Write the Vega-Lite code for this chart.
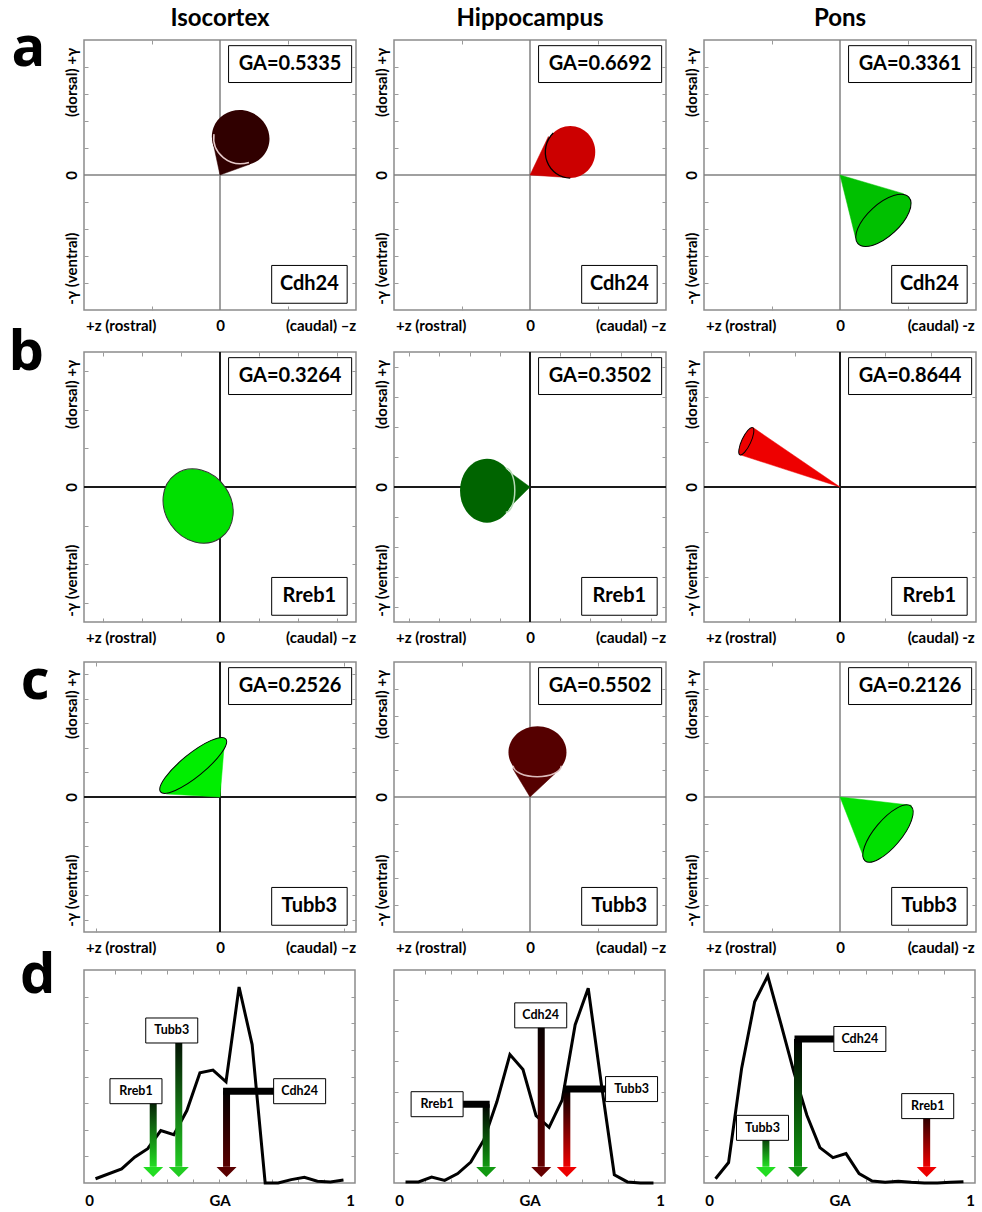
{
"$schema":"https://vega.github.io/schema/vega-lite/v6.json",
"padding":{"left":8,"top":6,"right":2,"bottom":0},
"background":"white",
"config":{
 "view":{"stroke":"#8c8c8c","strokeWidth":1.5},
 "axis":{"grid":false,"domain":false,"tickColor":"#9a9a9a","tickWidth":1,"tickSize":-4,"labelFont":"Lato","labelFontWeight":"bold","labelFontSize":15,"labelColor":"black","labelOverlap":false,"labelBound":false,"labelFlush":false},
 "title":{"font":"Lato","fontSize":24,"fontWeight":"bold","color":"black","offset":8},
 "text":{"font":"Lato","fontWeight":"bold","color":"black"}
},
"datasets":{
 "panels":[
  {"p":"a1","region":"Isocortex","gene":"Cdh24","ga":0.5335,"label":"GA=0.5335"},
  {"p":"a2","region":"Hippocampus","gene":"Cdh24","ga":0.6692,"label":"GA=0.6692"},
  {"p":"a3","region":"Pons","gene":"Cdh24","ga":0.3361,"label":"GA=0.3361"},
  {"p":"b1","region":"Isocortex","gene":"Rreb1","ga":0.3264,"label":"GA=0.3264"},
  {"p":"b2","region":"Hippocampus","gene":"Rreb1","ga":0.3502,"label":"GA=0.3502"},
  {"p":"b3","region":"Pons","gene":"Rreb1","ga":0.8644,"label":"GA=0.8644"},
  {"p":"c1","region":"Isocortex","gene":"Tubb3","ga":0.2526,"label":"GA=0.2526"},
  {"p":"c2","region":"Hippocampus","gene":"Tubb3","ga":0.5502,"label":"GA=0.5502"},
  {"p":"c3","region":"Pons","gene":"Tubb3","ga":0.2126,"label":"GA=0.2126"}
 ],
 "sides":[
  {"p":"a1","k":0,"z":0,"y":0},{"p":"a1","k":1,"z":-0.052,"y":0.244},{"p":"a1","k":2,"z":0.217,"y":0.079},
  {"p":"a2","k":0,"z":0,"y":0},{"p":"a2","k":1,"z":0.135,"y":0.285},{"p":"a2","k":2,"z":0.295,"y":-0.02},
  {"p":"a3","k":0,"z":0,"y":0},{"p":"a3","k":1,"z":0.467,"y":-0.138},{"p":"a3","k":2,"z":0.114,"y":-0.464},
  {"p":"b2","k":0,"z":0,"y":0},{"p":"b2","k":1,"z":-0.185,"y":0.136},{"p":"b2","k":2,"z":-0.16,"y":-0.16},
  {"p":"b3","k":0,"z":0,"y":0},{"p":"b3","k":1,"z":-0.639,"y":0.44},{"p":"b3","k":2,"z":-0.739,"y":0.24},
  {"p":"c1","k":0,"z":0,"y":0},{"p":"c1","k":1,"z":0.032,"y":0.395},{"p":"c1","k":2,"z":-0.393,"y":0.022},
  {"p":"c2","k":0,"z":0,"y":0},{"p":"c2","k":1,"z":-0.126,"y":0.21},{"p":"c2","k":2,"z":0.183,"y":0.173},
  {"p":"c3","k":0,"z":0,"y":0},{"p":"c3","k":1,"z":0.524,"y":-0.061},{"p":"c3","k":2,"z":0.185,"y":-0.474}
 ],
 "bases":[
  {"p":"a1","z":0.152,"y":0.276},{"p":"a2","z":0.296,"y":0.17},{"p":"a3","z":0.319,"y":-0.336},
  {"p":"b1","z":-0.161,"y":-0.141},{"p":"b2","z":-0.316,"y":-0.027},{"p":"b3","z":-0.689,"y":0.339},
  {"p":"c1","z":-0.197,"y":0.234},{"p":"c2","z":0.055,"y":0.332},{"p":"c3","z":0.353,"y":-0.271}
 ],
 "rims":[
  {"p":"a1","z":0.152,"y":0.276},{"p":"a2","z":0.296,"y":0.17},{"p":"b2","z":-0.178,"y":-0.024},{"p":"c2","z":0.053,"y":0.232}
 ],
 "dist":[
  {"r":"d1","ga":0.025,"f":0.02},{"r":"d1","ga":0.125,"f":0.066},{"r":"d1","ga":0.175,"f":0.121},{"r":"d1","ga":0.225,"f":0.161},{"r":"d1","ga":0.275,"f":0.246},{"r":"d1","ga":0.325,"f":0.227},{"r":"d1","ga":0.375,"f":0.34},{"r":"d1","ga":0.425,"f":0.517},{"r":"d1","ga":0.475,"f":0.53},{"r":"d1","ga":0.525,"f":0.475},{"r":"d1","ga":0.575,"f":0.92},{"r":"d1","ga":0.625,"f":0.65},{"r":"d1","ga":0.675,"f":0.0},{"r":"d1","ga":0.725,"f":0.0},{"r":"d1","ga":0.775,"f":0.016},{"r":"d1","ga":0.825,"f":0.027},{"r":"d1","ga":0.875,"f":0.008},{"r":"d1","ga":0.925,"f":0.005},{"r":"d1","ga":0.975,"f":0.014},
  {"r":"d2","ga":0.025,"f":0.005},{"r":"d2","ga":0.075,"f":0.005},{"r":"d2","ga":0.125,"f":0.028},{"r":"d2","ga":0.175,"f":0.012},{"r":"d2","ga":0.225,"f":0.044},{"r":"d2","ga":0.275,"f":0.098},{"r":"d2","ga":0.325,"f":0.202},{"r":"d2","ga":0.375,"f":0.381},{"r":"d2","ga":0.425,"f":0.603},{"r":"d2","ga":0.475,"f":0.533},{"r":"d2","ga":0.525,"f":0.316},{"r":"d2","ga":0.575,"f":0.261},{"r":"d2","ga":0.625,"f":0.389},{"r":"d2","ga":0.675,"f":0.743},{"r":"d2","ga":0.725,"f":0.914},{"r":"d2","ga":0.775,"f":0.467},{"r":"d2","ga":0.825,"f":0.039},{"r":"d2","ga":0.875,"f":0.005},{"r":"d2","ga":0.925,"f":0.0},{"r":"d2","ga":0.975,"f":0.0},
  {"r":"d3","ga":0.025,"f":0.02},{"r":"d3","ga":0.075,"f":0.096},{"r":"d3","ga":0.125,"f":0.538},{"r":"d3","ga":0.175,"f":0.851},{"r":"d3","ga":0.225,"f":0.972},{"r":"d3","ga":0.275,"f":0.749},{"r":"d3","ga":0.325,"f":0.522},{"r":"d3","ga":0.375,"f":0.318},{"r":"d3","ga":0.425,"f":0.166},{"r":"d3","ga":0.475,"f":0.119},{"r":"d3","ga":0.525,"f":0.138},{"r":"d3","ga":0.575,"f":0.044},{"r":"d3","ga":0.625,"f":0.009},{"r":"d3","ga":0.675,"f":0.003},{"r":"d3","ga":0.725,"f":0.008},{"r":"d3","ga":0.775,"f":0.003},{"r":"d3","ga":0.825,"f":0.0},{"r":"d3","ga":0.875,"f":0.0},{"r":"d3","ga":0.925,"f":0.003},{"r":"d3","ga":0.975,"f":0.006}
 ],
 "arrows":[
  {"r":"d1","gene":"Rreb1","ga":0.246,"lx":0.18,"ly":0.431},
  {"r":"d1","gene":"Tubb3","ga":0.344,"lx":0.317,"ly":0.716},
  {"r":"d1","gene":"Cdh24","ga":0.527,"lx":0.807,"ly":0.431},
  {"r":"d2","gene":"Rreb1","ga":0.334,"lx":0.146,"ly":0.37},
  {"r":"d2","gene":"Cdh24","ga":0.545,"lx":0.543,"ly":0.787},
  {"r":"d2","gene":"Tubb3","ga":0.643,"lx":0.891,"ly":0.441},
  {"r":"d3","gene":"Tubb3","ga":0.218,"lx":0.205,"ly":0.259},
  {"r":"d3","gene":"Cdh24","ga":0.341,"lx":0.578,"ly":0.676},
  {"r":"d3","gene":"Rreb1","ga":0.834,"lx":0.838,"ly":0.361}
 ]
},
"spacing":-9,
"resolve":{"scale":{"color":"independent"}},
"vconcat":[
 {"title":{"text":"a","orient":"left","anchor":"end","frame":"bounds","angle":0,"align":"right","baseline":"top","font":"Open Sans","fontSize":56,"fontWeight":"bold","offset":-16,"dy":15},
  "spacing":15,
  "hconcat":[
   {"width":272,"height":270,"title":"Isocortex",
    "layer":[
     {"data":{"name":"panels"},"transform":[{"filter":"datum.p === 'a1'"}],"mark":{"type":"rule","color":"#808080","strokeWidth":1.5},"encoding":{"y":{"datum":0,"type":"quantitative","scale":{"domain":[-1,1]},"axis":null}}},
     {"data":{"name":"panels"},"transform":[{"filter":"datum.p === 'a1'"}],"mark":{"type":"rule","color":"#808080","strokeWidth":1.5},"encoding":{"x":{"datum":0,"type":"quantitative","scale":{"domain":[-1,1]},"axis":null}}},
     {"data":{"name":"sides"},"transform":[{"filter":"datum.p === 'a1'"}],"mark":{"type":"line","interpolate":"linear-closed","fill":"#300000","stroke":"#300000","strokeWidth":0.5},"encoding":{"x":{"field":"z","type":"quantitative","scale":{"domain":[-1,1]},"axis":null},"y":{"field":"y","type":"quantitative","scale":{"domain":[-1,1]},"axis":null},"order":{"field":"k","type":"quantitative"}}},
     {"data":{"name":"bases"},"transform":[{"filter":"datum.p === 'a1'"}],"mark":{"type":"point","shape":"M-29,0A29,27.5 0 1,1 29,0A29,27.5 0 1,1 -29,0Z","size":4,"angle":20,"filled":true,"fill":"#300000","opacity":1},"encoding":{"x":{"field":"z","type":"quantitative","scale":{"domain":[-1,1]},"axis":{"orient":"bottom","values":[-0.73,0,0.74],"labelExpr":"datum.value < -0.1 ? '+z (rostral)' : datum.value > 0.1 ? '(caudal) –z' : '0'","ticks":false,"tickSize":0,"labelPadding":8,"title":null}},"y":{"field":"y","type":"quantitative","scale":{"domain":[-1,1]},"axis":{"orient":"left","values":[-0.69,0,0.69],"labelExpr":"datum.value > 0.1 ? '(dorsal) +γ' : datum.value < -0.1 ? '-γ (ventral)' : '0'","labelAngle":-90,"ticks":false,"tickSize":0,"labelPadding":5,"title":null}}}},
     {"data":{"name":"rims"},"transform":[{"filter":"datum.p === 'a1'"}],"mark":{"type":"point","shape":"M-26.7,-3.6A27,26 0 0,0 8.3,24.7","size":4,"filled":false,"stroke":"#e6caca","strokeWidth":1.5,"opacity":1},"encoding":{"x":{"field":"z","type":"quantitative","scale":{"domain":[-1,1]},"axis":null},"y":{"field":"y","type":"quantitative","scale":{"domain":[-1,1]},"axis":null}}},
     {"data":{"name":"panels"},"transform":[{"filter":"datum.p === 'a1'"}],"mark":{"type":"rect","fill":"white","stroke":"black","strokeWidth":1},"encoding":{"x":{"datum":0.063,"type":"quantitative","scale":{"domain":[-1,1]},"axis":{"orient":"top","values":[-0.5,0.5],"labels":false,"title":null}},"x2":{"datum":0.968},"y":{"datum":0.958,"type":"quantitative","scale":{"domain":[-1,1]},"axis":{"orient":"right","values":[-0.8,-0.6,-0.4,-0.2,0.2,0.4,0.6,0.8],"labels":false,"title":null}},"y2":{"datum":0.685}}},
     {"data":{"name":"panels"},"transform":[{"filter":"datum.p === 'a1'"}],"mark":{"type":"text","fontSize":20},"encoding":{"x":{"datum":0.515,"type":"quantitative","scale":{"domain":[-1,1]},"axis":null},"y":{"datum":0.82,"type":"quantitative","scale":{"domain":[-1,1]},"axis":null},"text":{"field":"label"}}},
     {"data":{"name":"panels"},"transform":[{"filter":"datum.p === 'a1'"}],"mark":{"type":"rect","fill":"white","stroke":"black","strokeWidth":1},"encoding":{"x":{"datum":0.38,"type":"quantitative","scale":{"domain":[-1,1]},"axis":{"orient":"bottom","values":[-0.5,0.5],"labels":false,"title":null}},"x2":{"datum":0.935},"y":{"datum":-0.67,"type":"quantitative","scale":{"domain":[-1,1]},"axis":{"orient":"left","values":[-0.8,-0.6,-0.4,-0.2,0.2,0.4,0.6,0.8],"labels":false,"title":null}},"y2":{"datum":-0.95}}},
     {"data":{"name":"panels"},"transform":[{"filter":"datum.p === 'a1'"}],"mark":{"type":"text","fontSize":20},"encoding":{"x":{"datum":0.657,"type":"quantitative","scale":{"domain":[-1,1]},"axis":null},"y":{"datum":-0.81,"type":"quantitative","scale":{"domain":[-1,1]},"axis":null},"text":{"field":"gene"}}}
    ],
    "resolve":{"axis":{"x":"independent","y":"independent"}}},
   {"width":272,"height":270,"title":"Hippocampus",
    "layer":[
     {"data":{"name":"panels"},"transform":[{"filter":"datum.p === 'a2'"}],"mark":{"type":"rule","color":"#808080","strokeWidth":1.5},"encoding":{"y":{"datum":0,"type":"quantitative","scale":{"domain":[-1,1]},"axis":null}}},
     {"data":{"name":"panels"},"transform":[{"filter":"datum.p === 'a2'"}],"mark":{"type":"rule","color":"#808080","strokeWidth":1.5},"encoding":{"x":{"datum":0,"type":"quantitative","scale":{"domain":[-1,1]},"axis":null}}},
     {"data":{"name":"sides"},"transform":[{"filter":"datum.p === 'a2'"}],"mark":{"type":"line","interpolate":"linear-closed","fill":"#cc0000","stroke":"#cc0000","strokeWidth":0.5},"encoding":{"x":{"field":"z","type":"quantitative","scale":{"domain":[-1,1]},"axis":null},"y":{"field":"y","type":"quantitative","scale":{"domain":[-1,1]},"axis":null},"order":{"field":"k","type":"quantitative"}}},
     {"data":{"name":"bases"},"transform":[{"filter":"datum.p === 'a2'"}],"mark":{"type":"point","shape":"M-25,0A25,26 0 1,1 25,0A25,26 0 1,1 -25,0Z","size":4,"filled":true,"fill":"#cc0000","opacity":1},"encoding":{"x":{"field":"z","type":"quantitative","scale":{"domain":[-1,1]},"axis":{"orient":"bottom","values":[-0.73,0,0.74],"labelExpr":"datum.value < -0.1 ? '+z (rostral)' : datum.value > 0.1 ? '(caudal) –z' : '0'","ticks":false,"tickSize":0,"labelPadding":8,"title":null}},"y":{"field":"y","type":"quantitative","scale":{"domain":[-1,1]},"axis":{"orient":"left","values":[-0.69,0,0.69],"labelExpr":"datum.value > 0.1 ? '(dorsal) +γ' : datum.value < -0.1 ? '-γ (ventral)' : '0'","labelAngle":-90,"ticks":false,"tickSize":0,"labelPadding":5,"title":null}}}},
     {"data":{"name":"rims"},"transform":[{"filter":"datum.p === 'a2'"}],"mark":{"type":"point","shape":"M-17,-19A25,26 0 0,0 0,26","size":4,"filled":false,"stroke":"#000000","strokeWidth":1.3,"opacity":1},"encoding":{"x":{"field":"z","type":"quantitative","scale":{"domain":[-1,1]},"axis":null},"y":{"field":"y","type":"quantitative","scale":{"domain":[-1,1]},"axis":null}}},
     {"data":{"name":"panels"},"transform":[{"filter":"datum.p === 'a2'"}],"mark":{"type":"rect","fill":"white","stroke":"black","strokeWidth":1},"encoding":{"x":{"datum":0.063,"type":"quantitative","scale":{"domain":[-1,1]},"axis":{"orient":"top","values":[-0.5,0.5],"labels":false,"title":null}},"x2":{"datum":0.968},"y":{"datum":0.958,"type":"quantitative","scale":{"domain":[-1,1]},"axis":{"orient":"right","values":[-0.8,-0.6,-0.4,-0.2,0.2,0.4,0.6,0.8],"labels":false,"title":null}},"y2":{"datum":0.685}}},
     {"data":{"name":"panels"},"transform":[{"filter":"datum.p === 'a2'"}],"mark":{"type":"text","fontSize":20},"encoding":{"x":{"datum":0.515,"type":"quantitative","scale":{"domain":[-1,1]},"axis":null},"y":{"datum":0.82,"type":"quantitative","scale":{"domain":[-1,1]},"axis":null},"text":{"field":"label"}}},
     {"data":{"name":"panels"},"transform":[{"filter":"datum.p === 'a2'"}],"mark":{"type":"rect","fill":"white","stroke":"black","strokeWidth":1},"encoding":{"x":{"datum":0.38,"type":"quantitative","scale":{"domain":[-1,1]},"axis":{"orient":"bottom","values":[-0.5,0.5],"labels":false,"title":null}},"x2":{"datum":0.935},"y":{"datum":-0.67,"type":"quantitative","scale":{"domain":[-1,1]},"axis":{"orient":"left","values":[-0.8,-0.6,-0.4,-0.2,0.2,0.4,0.6,0.8],"labels":false,"title":null}},"y2":{"datum":-0.95}}},
     {"data":{"name":"panels"},"transform":[{"filter":"datum.p === 'a2'"}],"mark":{"type":"text","fontSize":20},"encoding":{"x":{"datum":0.657,"type":"quantitative","scale":{"domain":[-1,1]},"axis":null},"y":{"datum":-0.81,"type":"quantitative","scale":{"domain":[-1,1]},"axis":null},"text":{"field":"gene"}}}
    ],
    "resolve":{"axis":{"x":"independent","y":"independent"}}},
   {"width":272,"height":270,"title":"Pons",
    "layer":[
     {"data":{"name":"panels"},"transform":[{"filter":"datum.p === 'a3'"}],"mark":{"type":"rule","color":"#808080","strokeWidth":1.5},"encoding":{"y":{"datum":0,"type":"quantitative","scale":{"domain":[-1,1]},"axis":null}}},
     {"data":{"name":"panels"},"transform":[{"filter":"datum.p === 'a3'"}],"mark":{"type":"rule","color":"#808080","strokeWidth":1.5},"encoding":{"x":{"datum":0,"type":"quantitative","scale":{"domain":[-1,1]},"axis":null}}},
     {"data":{"name":"sides"},"transform":[{"filter":"datum.p === 'a3'"}],"mark":{"type":"line","interpolate":"linear-closed","fill":"#00c000","stroke":"#00c000","strokeWidth":0.5},"encoding":{"x":{"field":"z","type":"quantitative","scale":{"domain":[-1,1]},"axis":null},"y":{"field":"y","type":"quantitative","scale":{"domain":[-1,1]},"axis":null},"order":{"field":"k","type":"quantitative"}}},
     {"data":{"name":"bases"},"transform":[{"filter":"datum.p === 'a3'"}],"mark":{"type":"point","shape":"M-34.5,0A34.5,16 0 1,1 34.5,0A34.5,16 0 1,1 -34.5,0Z","size":4,"angle":-42.5,"filled":true,"fill":"#00c000","stroke":"black","strokeWidth":1,"opacity":1},"encoding":{"x":{"field":"z","type":"quantitative","scale":{"domain":[-1,1]},"axis":{"orient":"bottom","values":[-0.73,0,0.74],"labelExpr":"datum.value < -0.1 ? '+z (rostral)' : datum.value > 0.1 ? '(caudal) -z' : '0'","ticks":false,"tickSize":0,"labelPadding":8,"title":null}},"y":{"field":"y","type":"quantitative","scale":{"domain":[-1,1]},"axis":{"orient":"left","values":[-0.69,0,0.69],"labelExpr":"datum.value > 0.1 ? '(dorsal) +γ' : datum.value < -0.1 ? '-γ (ventral)' : '0'","labelAngle":-90,"ticks":false,"tickSize":0,"labelPadding":5,"title":null}}}},
     {"data":{"name":"panels"},"transform":[{"filter":"datum.p === 'a3'"}],"mark":{"type":"rect","fill":"white","stroke":"black","strokeWidth":1},"encoding":{"x":{"datum":0.063,"type":"quantitative","scale":{"domain":[-1,1]},"axis":{"orient":"top","values":[-0.5,0.5],"labels":false,"title":null}},"x2":{"datum":0.968},"y":{"datum":0.958,"type":"quantitative","scale":{"domain":[-1,1]},"axis":{"orient":"right","values":[-0.8,-0.6,-0.4,-0.2,0.2,0.4,0.6,0.8],"labels":false,"title":null}},"y2":{"datum":0.685}}},
     {"data":{"name":"panels"},"transform":[{"filter":"datum.p === 'a3'"}],"mark":{"type":"text","fontSize":20},"encoding":{"x":{"datum":0.515,"type":"quantitative","scale":{"domain":[-1,1]},"axis":null},"y":{"datum":0.82,"type":"quantitative","scale":{"domain":[-1,1]},"axis":null},"text":{"field":"label"}}},
     {"data":{"name":"panels"},"transform":[{"filter":"datum.p === 'a3'"}],"mark":{"type":"rect","fill":"white","stroke":"black","strokeWidth":1},"encoding":{"x":{"datum":0.38,"type":"quantitative","scale":{"domain":[-1,1]},"axis":{"orient":"bottom","values":[-0.5,0.5],"labels":false,"title":null}},"x2":{"datum":0.935},"y":{"datum":-0.67,"type":"quantitative","scale":{"domain":[-1,1]},"axis":{"orient":"left","values":[-0.8,-0.6,-0.4,-0.2,0.2,0.4,0.6,0.8],"labels":false,"title":null}},"y2":{"datum":-0.95}}},
     {"data":{"name":"panels"},"transform":[{"filter":"datum.p === 'a3'"}],"mark":{"type":"text","fontSize":20},"encoding":{"x":{"datum":0.657,"type":"quantitative","scale":{"domain":[-1,1]},"axis":null},"y":{"datum":-0.81,"type":"quantitative","scale":{"domain":[-1,1]},"axis":null},"text":{"field":"gene"}}}
    ],
    "resolve":{"axis":{"x":"independent","y":"independent"}}}
  ]},
 {"title":{"text":"b","orient":"left","anchor":"end","frame":"bounds","angle":0,"align":"right","baseline":"top","font":"Open Sans","fontSize":56,"fontWeight":"bold","offset":-16,"dy":-24},
  "spacing":15,
  "hconcat":[
   {"width":272,"height":270,
    "layer":[
     {"data":{"name":"panels"},"transform":[{"filter":"datum.p === 'b1'"}],"mark":{"type":"rule","color":"#1a1a1a","strokeWidth":2},"encoding":{"y":{"datum":0,"type":"quantitative","scale":{"domain":[-1,1]},"axis":null}}},
     {"data":{"name":"panels"},"transform":[{"filter":"datum.p === 'b1'"}],"mark":{"type":"rule","color":"#1a1a1a","strokeWidth":2},"encoding":{"x":{"datum":0,"type":"quantitative","scale":{"domain":[-1,1]},"axis":null}}},
     {"data":{"name":"bases"},"transform":[{"filter":"datum.p === 'b1'"}],"mark":{"type":"point","shape":"M-39,0A39,33 0 1,1 39,0A39,33 0 1,1 -39,0Z","size":4,"angle":55,"filled":true,"fill":"#00e000","stroke":"#333333","strokeWidth":1,"opacity":1},"encoding":{"x":{"field":"z","type":"quantitative","scale":{"domain":[-1,1]},"axis":{"orient":"bottom","values":[-0.73,0,0.74],"labelExpr":"datum.value < -0.1 ? '+z (rostral)' : datum.value > 0.1 ? '(caudal) –z' : '0'","ticks":false,"tickSize":0,"labelPadding":8,"title":null}},"y":{"field":"y","type":"quantitative","scale":{"domain":[-1,1]},"axis":{"orient":"left","values":[-0.69,0,0.69],"labelExpr":"datum.value > 0.1 ? '(dorsal) +γ' : datum.value < -0.1 ? '-γ (ventral)' : '0'","labelAngle":-90,"ticks":false,"tickSize":0,"labelPadding":5,"title":null}}}},
     {"data":{"name":"panels"},"transform":[{"filter":"datum.p === 'b1'"}],"mark":{"type":"rect","fill":"white","stroke":"black","strokeWidth":1},"encoding":{"x":{"datum":0.063,"type":"quantitative","scale":{"domain":[-1,1]},"axis":{"orient":"top","values":[-0.857,-0.571,-0.286,0.286,0.571,0.857],"labels":false,"title":null}},"x2":{"datum":0.968},"y":{"datum":0.958,"type":"quantitative","scale":{"domain":[-1,1]},"axis":{"orient":"right","values":[-0.857,-0.571,-0.286,0.286,0.571,0.857],"labels":false,"title":null}},"y2":{"datum":0.685}}},
     {"data":{"name":"panels"},"transform":[{"filter":"datum.p === 'b1'"}],"mark":{"type":"text","fontSize":20},"encoding":{"x":{"datum":0.515,"type":"quantitative","scale":{"domain":[-1,1]},"axis":null},"y":{"datum":0.82,"type":"quantitative","scale":{"domain":[-1,1]},"axis":null},"text":{"field":"label"}}},
     {"data":{"name":"panels"},"transform":[{"filter":"datum.p === 'b1'"}],"mark":{"type":"rect","fill":"white","stroke":"black","strokeWidth":1},"encoding":{"x":{"datum":0.38,"type":"quantitative","scale":{"domain":[-1,1]},"axis":{"orient":"bottom","values":[-0.857,-0.571,-0.286,0.286,0.571,0.857],"labels":false,"title":null}},"x2":{"datum":0.935},"y":{"datum":-0.67,"type":"quantitative","scale":{"domain":[-1,1]},"axis":{"orient":"left","values":[-0.857,-0.571,-0.286,0.286,0.571,0.857],"labels":false,"title":null}},"y2":{"datum":-0.95}}},
     {"data":{"name":"panels"},"transform":[{"filter":"datum.p === 'b1'"}],"mark":{"type":"text","fontSize":20},"encoding":{"x":{"datum":0.657,"type":"quantitative","scale":{"domain":[-1,1]},"axis":null},"y":{"datum":-0.81,"type":"quantitative","scale":{"domain":[-1,1]},"axis":null},"text":{"field":"gene"}}}
    ],
    "resolve":{"axis":{"x":"independent","y":"independent"}}},
   {"width":272,"height":270,
    "layer":[
     {"data":{"name":"panels"},"transform":[{"filter":"datum.p === 'b2'"}],"mark":{"type":"rule","color":"#1a1a1a","strokeWidth":2},"encoding":{"y":{"datum":0,"type":"quantitative","scale":{"domain":[-1,1]},"axis":null}}},
     {"data":{"name":"panels"},"transform":[{"filter":"datum.p === 'b2'"}],"mark":{"type":"rule","color":"#1a1a1a","strokeWidth":2},"encoding":{"x":{"datum":0,"type":"quantitative","scale":{"domain":[-1,1]},"axis":null}}},
     {"data":{"name":"sides"},"transform":[{"filter":"datum.p === 'b2'"}],"mark":{"type":"line","interpolate":"linear-closed","fill":"#006400","stroke":"#006400","strokeWidth":0.5},"encoding":{"x":{"field":"z","type":"quantitative","scale":{"domain":[-1,1]},"axis":null},"y":{"field":"y","type":"quantitative","scale":{"domain":[-1,1]},"axis":null},"order":{"field":"k","type":"quantitative"}}},
     {"data":{"name":"bases"},"transform":[{"filter":"datum.p === 'b2'"}],"mark":{"type":"point","shape":"M-27,0A27,32 0 1,1 27,0A27,32 0 1,1 -27,0Z","size":4,"filled":true,"fill":"#006400","opacity":1},"encoding":{"x":{"field":"z","type":"quantitative","scale":{"domain":[-1,1]},"axis":{"orient":"bottom","values":[-0.73,0,0.74],"labelExpr":"datum.value < -0.1 ? '+z (rostral)' : datum.value > 0.1 ? '(caudal) –z' : '0'","ticks":false,"tickSize":0,"labelPadding":8,"title":null}},"y":{"field":"y","type":"quantitative","scale":{"domain":[-1,1]},"axis":{"orient":"left","values":[-0.69,0,0.69],"labelExpr":"datum.value > 0.1 ? '(dorsal) +γ' : datum.value < -0.1 ? '-γ (ventral)' : '0'","labelAngle":-90,"ticks":false,"tickSize":0,"labelPadding":5,"title":null}}}},
     {"data":{"name":"rims"},"transform":[{"filter":"datum.p === 'b2'"}],"mark":{"type":"point","shape":"M0,-22A9,22 0 0,1 0,22","size":4,"filled":false,"stroke":"#b5d9b5","strokeWidth":1.5,"opacity":1},"encoding":{"x":{"field":"z","type":"quantitative","scale":{"domain":[-1,1]},"axis":null},"y":{"field":"y","type":"quantitative","scale":{"domain":[-1,1]},"axis":null}}},
     {"data":{"name":"panels"},"transform":[{"filter":"datum.p === 'b2'"}],"mark":{"type":"rect","fill":"white","stroke":"black","strokeWidth":1},"encoding":{"x":{"datum":0.063,"type":"quantitative","scale":{"domain":[-1,1]},"axis":{"orient":"top","values":[-0.889,-0.667,-0.444,-0.222,0.222,0.444,0.667,0.889],"labels":false,"title":null}},"x2":{"datum":0.968},"y":{"datum":0.958,"type":"quantitative","scale":{"domain":[-1,1]},"axis":{"orient":"right","values":[-0.889,-0.667,-0.444,-0.222,0.222,0.444,0.667,0.889],"labels":false,"title":null}},"y2":{"datum":0.685}}},
     {"data":{"name":"panels"},"transform":[{"filter":"datum.p === 'b2'"}],"mark":{"type":"text","fontSize":20},"encoding":{"x":{"datum":0.515,"type":"quantitative","scale":{"domain":[-1,1]},"axis":null},"y":{"datum":0.82,"type":"quantitative","scale":{"domain":[-1,1]},"axis":null},"text":{"field":"label"}}},
     {"data":{"name":"panels"},"transform":[{"filter":"datum.p === 'b2'"}],"mark":{"type":"rect","fill":"white","stroke":"black","strokeWidth":1},"encoding":{"x":{"datum":0.38,"type":"quantitative","scale":{"domain":[-1,1]},"axis":{"orient":"bottom","values":[-0.889,-0.667,-0.444,-0.222,0.222,0.444,0.667,0.889],"labels":false,"title":null}},"x2":{"datum":0.935},"y":{"datum":-0.67,"type":"quantitative","scale":{"domain":[-1,1]},"axis":{"orient":"left","values":[-0.889,-0.667,-0.444,-0.222,0.222,0.444,0.667,0.889],"labels":false,"title":null}},"y2":{"datum":-0.95}}},
     {"data":{"name":"panels"},"transform":[{"filter":"datum.p === 'b2'"}],"mark":{"type":"text","fontSize":20},"encoding":{"x":{"datum":0.657,"type":"quantitative","scale":{"domain":[-1,1]},"axis":null},"y":{"datum":-0.81,"type":"quantitative","scale":{"domain":[-1,1]},"axis":null},"text":{"field":"gene"}}}
    ],
    "resolve":{"axis":{"x":"independent","y":"independent"}}},
   {"width":272,"height":270,
    "layer":[
     {"data":{"name":"panels"},"transform":[{"filter":"datum.p === 'b3'"}],"mark":{"type":"rule","color":"#1a1a1a","strokeWidth":2},"encoding":{"y":{"datum":0,"type":"quantitative","scale":{"domain":[-1,1]},"axis":null}}},
     {"data":{"name":"panels"},"transform":[{"filter":"datum.p === 'b3'"}],"mark":{"type":"rule","color":"#1a1a1a","strokeWidth":2},"encoding":{"x":{"datum":0,"type":"quantitative","scale":{"domain":[-1,1]},"axis":null}}},
     {"data":{"name":"sides"},"transform":[{"filter":"datum.p === 'b3'"}],"mark":{"type":"line","interpolate":"linear-closed","fill":"#ee0000","stroke":"#ee0000","strokeWidth":0.5},"encoding":{"x":{"field":"z","type":"quantitative","scale":{"domain":[-1,1]},"axis":null},"y":{"field":"y","type":"quantitative","scale":{"domain":[-1,1]},"axis":null},"order":{"field":"k","type":"quantitative"}}},
     {"data":{"name":"bases"},"transform":[{"filter":"datum.p === 'b3'"}],"mark":{"type":"point","shape":"M-15,0A15,4.5 0 1,1 15,0A15,4.5 0 1,1 -15,0Z","size":4,"angle":-65,"filled":true,"fill":"#ee0000","stroke":"black","strokeWidth":1,"opacity":1},"encoding":{"x":{"field":"z","type":"quantitative","scale":{"domain":[-1,1]},"axis":{"orient":"bottom","values":[-0.73,0,0.74],"labelExpr":"datum.value < -0.1 ? '+z (rostral)' : datum.value > 0.1 ? '(caudal) -z' : '0'","ticks":false,"tickSize":0,"labelPadding":8,"title":null}},"y":{"field":"y","type":"quantitative","scale":{"domain":[-1,1]},"axis":{"orient":"left","values":[-0.69,0,0.69],"labelExpr":"datum.value > 0.1 ? '(dorsal) +γ' : datum.value < -0.1 ? '-γ (ventral)' : '0'","labelAngle":-90,"ticks":false,"tickSize":0,"labelPadding":5,"title":null}}}},
     {"data":{"name":"panels"},"transform":[{"filter":"datum.p === 'b3'"}],"mark":{"type":"rect","fill":"white","stroke":"black","strokeWidth":1},"encoding":{"x":{"datum":0.063,"type":"quantitative","scale":{"domain":[-1,1]},"axis":{"orient":"top","values":[-0.667,-0.333,0.333,0.667],"labels":false,"title":null}},"x2":{"datum":0.968},"y":{"datum":0.958,"type":"quantitative","scale":{"domain":[-1,1]},"axis":{"orient":"right","values":[-0.667,-0.333,0.333,0.667],"labels":false,"title":null}},"y2":{"datum":0.685}}},
     {"data":{"name":"panels"},"transform":[{"filter":"datum.p === 'b3'"}],"mark":{"type":"text","fontSize":20},"encoding":{"x":{"datum":0.515,"type":"quantitative","scale":{"domain":[-1,1]},"axis":null},"y":{"datum":0.82,"type":"quantitative","scale":{"domain":[-1,1]},"axis":null},"text":{"field":"label"}}},
     {"data":{"name":"panels"},"transform":[{"filter":"datum.p === 'b3'"}],"mark":{"type":"rect","fill":"white","stroke":"black","strokeWidth":1},"encoding":{"x":{"datum":0.38,"type":"quantitative","scale":{"domain":[-1,1]},"axis":{"orient":"bottom","values":[-0.667,-0.333,0.333,0.667],"labels":false,"title":null}},"x2":{"datum":0.935},"y":{"datum":-0.67,"type":"quantitative","scale":{"domain":[-1,1]},"axis":{"orient":"left","values":[-0.667,-0.333,0.333,0.667],"labels":false,"title":null}},"y2":{"datum":-0.95}}},
     {"data":{"name":"panels"},"transform":[{"filter":"datum.p === 'b3'"}],"mark":{"type":"text","fontSize":20},"encoding":{"x":{"datum":0.657,"type":"quantitative","scale":{"domain":[-1,1]},"axis":null},"y":{"datum":-0.81,"type":"quantitative","scale":{"domain":[-1,1]},"axis":null},"text":{"field":"gene"}}}
    ],
    "resolve":{"axis":{"x":"independent","y":"independent"}}}
  ]},
 {"title":{"text":[" ","c"],"lineHeight":17,"orient":"left","anchor":"end","frame":"bounds","angle":0,"align":"right","baseline":"top","font":"Open Sans","fontSize":56,"fontWeight":"bold","offset":-15,"dy":-22},
  "spacing":15,
  "hconcat":[
   {"width":272,"height":270,
    "layer":[
     {"data":{"name":"panels"},"transform":[{"filter":"datum.p === 'c1'"}],"mark":{"type":"rule","color":"#1a1a1a","strokeWidth":2},"encoding":{"y":{"datum":0,"type":"quantitative","scale":{"domain":[-1,1]},"axis":null}}},
     {"data":{"name":"panels"},"transform":[{"filter":"datum.p === 'c1'"}],"mark":{"type":"rule","color":"#1a1a1a","strokeWidth":2},"encoding":{"x":{"datum":0,"type":"quantitative","scale":{"domain":[-1,1]},"axis":null}}},
     {"data":{"name":"sides"},"transform":[{"filter":"datum.p === 'c1'"}],"mark":{"type":"line","interpolate":"linear-closed","fill":"#00ee00","stroke":"#00ee00","strokeWidth":0.5},"encoding":{"x":{"field":"z","type":"quantitative","scale":{"domain":[-1,1]},"axis":null},"y":{"field":"y","type":"quantitative","scale":{"domain":[-1,1]},"axis":null},"order":{"field":"k","type":"quantitative"}}},
     {"data":{"name":"bases"},"transform":[{"filter":"datum.p === 'c1'"}],"mark":{"type":"point","shape":"M-42,0A42,11.5 0 1,1 42,0A42,11.5 0 1,1 -42,0Z","size":4,"angle":-39,"filled":true,"fill":"#00ee00","stroke":"black","strokeWidth":1,"opacity":1},"encoding":{"x":{"field":"z","type":"quantitative","scale":{"domain":[-1,1]},"axis":{"orient":"bottom","values":[-0.73,0,0.74],"labelExpr":"datum.value < -0.1 ? '+z (rostral)' : datum.value > 0.1 ? '(caudal) –z' : '0'","ticks":false,"tickSize":0,"labelPadding":8,"title":null}},"y":{"field":"y","type":"quantitative","scale":{"domain":[-1,1]},"axis":{"orient":"left","values":[-0.69,0,0.69],"labelExpr":"datum.value > 0.1 ? '(dorsal) +γ' : datum.value < -0.1 ? '-γ (ventral)' : '0'","labelAngle":-90,"ticks":false,"tickSize":0,"labelPadding":5,"title":null}}}},
     {"data":{"name":"panels"},"transform":[{"filter":"datum.p === 'c1'"}],"mark":{"type":"rect","fill":"white","stroke":"black","strokeWidth":1},"encoding":{"x":{"datum":0.063,"type":"quantitative","scale":{"domain":[-1,1]},"axis":{"orient":"top","values":[-0.909,0.909],"labels":false,"title":null}},"x2":{"datum":0.968},"y":{"datum":0.958,"type":"quantitative","scale":{"domain":[-1,1]},"axis":{"orient":"right","values":[-0.909,-0.727,-0.545,-0.364,-0.182,0.182,0.364,0.545,0.727,0.909],"labels":false,"title":null}},"y2":{"datum":0.685}}},
     {"data":{"name":"panels"},"transform":[{"filter":"datum.p === 'c1'"}],"mark":{"type":"text","fontSize":20},"encoding":{"x":{"datum":0.515,"type":"quantitative","scale":{"domain":[-1,1]},"axis":null},"y":{"datum":0.82,"type":"quantitative","scale":{"domain":[-1,1]},"axis":null},"text":{"field":"label"}}},
     {"data":{"name":"panels"},"transform":[{"filter":"datum.p === 'c1'"}],"mark":{"type":"rect","fill":"white","stroke":"black","strokeWidth":1},"encoding":{"x":{"datum":0.38,"type":"quantitative","scale":{"domain":[-1,1]},"axis":{"orient":"bottom","values":[-0.909,0.909],"labels":false,"title":null}},"x2":{"datum":0.935},"y":{"datum":-0.67,"type":"quantitative","scale":{"domain":[-1,1]},"axis":{"orient":"left","values":[-0.909,-0.727,-0.545,-0.364,-0.182,0.182,0.364,0.545,0.727,0.909],"labels":false,"title":null}},"y2":{"datum":-0.95}}},
     {"data":{"name":"panels"},"transform":[{"filter":"datum.p === 'c1'"}],"mark":{"type":"text","fontSize":20},"encoding":{"x":{"datum":0.657,"type":"quantitative","scale":{"domain":[-1,1]},"axis":null},"y":{"datum":-0.81,"type":"quantitative","scale":{"domain":[-1,1]},"axis":null},"text":{"field":"gene"}}}
    ],
    "resolve":{"axis":{"x":"independent","y":"independent"}}},
   {"width":272,"height":270,
    "layer":[
     {"data":{"name":"panels"},"transform":[{"filter":"datum.p === 'c2'"}],"mark":{"type":"rule","color":"#808080","strokeWidth":1.5},"encoding":{"y":{"datum":0,"type":"quantitative","scale":{"domain":[-1,1]},"axis":null}}},
     {"data":{"name":"panels"},"transform":[{"filter":"datum.p === 'c2'"}],"mark":{"type":"rule","color":"#808080","strokeWidth":1.5},"encoding":{"x":{"datum":0,"type":"quantitative","scale":{"domain":[-1,1]},"axis":null}}},
     {"data":{"name":"sides"},"transform":[{"filter":"datum.p === 'c2'"}],"mark":{"type":"line","interpolate":"linear-closed","fill":"#550000","stroke":"#550000","strokeWidth":0.5},"encoding":{"x":{"field":"z","type":"quantitative","scale":{"domain":[-1,1]},"axis":null},"y":{"field":"y","type":"quantitative","scale":{"domain":[-1,1]},"axis":null},"order":{"field":"k","type":"quantitative"}}},
     {"data":{"name":"bases"},"transform":[{"filter":"datum.p === 'c2'"}],"mark":{"type":"point","shape":"M-29,0A29,26 0 1,1 29,0A29,26 0 1,1 -29,0Z","size":4,"filled":true,"fill":"#550000","opacity":1},"encoding":{"x":{"field":"z","type":"quantitative","scale":{"domain":[-1,1]},"axis":{"orient":"bottom","values":[-0.73,0,0.74],"labelExpr":"datum.value < -0.1 ? '+z (rostral)' : datum.value > 0.1 ? '(caudal) –z' : '0'","ticks":false,"tickSize":0,"labelPadding":8,"title":null}},"y":{"field":"y","type":"quantitative","scale":{"domain":[-1,1]},"axis":{"orient":"left","values":[-0.69,0,0.69],"labelExpr":"datum.value > 0.1 ? '(dorsal) +γ' : datum.value < -0.1 ? '-γ (ventral)' : '0'","labelAngle":-90,"ticks":false,"tickSize":0,"labelPadding":5,"title":null}}}},
     {"data":{"name":"rims"},"transform":[{"filter":"datum.p === 'c2'"}],"mark":{"type":"point","shape":"M-24,0A24,11 0 0,0 24,0","size":4,"filled":false,"stroke":"#dcbcbc","strokeWidth":1.5,"opacity":1},"encoding":{"x":{"field":"z","type":"quantitative","scale":{"domain":[-1,1]},"axis":null},"y":{"field":"y","type":"quantitative","scale":{"domain":[-1,1]},"axis":null}}},
     {"data":{"name":"panels"},"transform":[{"filter":"datum.p === 'c2'"}],"mark":{"type":"rect","fill":"white","stroke":"black","strokeWidth":1},"encoding":{"x":{"datum":0.063,"type":"quantitative","scale":{"domain":[-1,1]},"axis":{"orient":"top","values":[-0.5,0.5],"labels":false,"title":null}},"x2":{"datum":0.968},"y":{"datum":0.958,"type":"quantitative","scale":{"domain":[-1,1]},"axis":{"orient":"right","values":[-0.8,-0.6,-0.4,-0.2,0.2,0.4,0.6,0.8],"labels":false,"title":null}},"y2":{"datum":0.685}}},
     {"data":{"name":"panels"},"transform":[{"filter":"datum.p === 'c2'"}],"mark":{"type":"text","fontSize":20},"encoding":{"x":{"datum":0.515,"type":"quantitative","scale":{"domain":[-1,1]},"axis":null},"y":{"datum":0.82,"type":"quantitative","scale":{"domain":[-1,1]},"axis":null},"text":{"field":"label"}}},
     {"data":{"name":"panels"},"transform":[{"filter":"datum.p === 'c2'"}],"mark":{"type":"rect","fill":"white","stroke":"black","strokeWidth":1},"encoding":{"x":{"datum":0.38,"type":"quantitative","scale":{"domain":[-1,1]},"axis":{"orient":"bottom","values":[-0.5,0.5],"labels":false,"title":null}},"x2":{"datum":0.935},"y":{"datum":-0.67,"type":"quantitative","scale":{"domain":[-1,1]},"axis":{"orient":"left","values":[-0.8,-0.6,-0.4,-0.2,0.2,0.4,0.6,0.8],"labels":false,"title":null}},"y2":{"datum":-0.95}}},
     {"data":{"name":"panels"},"transform":[{"filter":"datum.p === 'c2'"}],"mark":{"type":"text","fontSize":20},"encoding":{"x":{"datum":0.657,"type":"quantitative","scale":{"domain":[-1,1]},"axis":null},"y":{"datum":-0.81,"type":"quantitative","scale":{"domain":[-1,1]},"axis":null},"text":{"field":"gene"}}}
    ],
    "resolve":{"axis":{"x":"independent","y":"independent"}}},
   {"width":272,"height":270,
    "layer":[
     {"data":{"name":"panels"},"transform":[{"filter":"datum.p === 'c3'"}],"mark":{"type":"rule","color":"#808080","strokeWidth":1.5},"encoding":{"y":{"datum":0,"type":"quantitative","scale":{"domain":[-1,1]},"axis":null}}},
     {"data":{"name":"panels"},"transform":[{"filter":"datum.p === 'c3'"}],"mark":{"type":"rule","color":"#808080","strokeWidth":1.5},"encoding":{"x":{"datum":0,"type":"quantitative","scale":{"domain":[-1,1]},"axis":null}}},
     {"data":{"name":"sides"},"transform":[{"filter":"datum.p === 'c3'"}],"mark":{"type":"line","interpolate":"linear-closed","fill":"#00e000","stroke":"#00e000","strokeWidth":0.5},"encoding":{"x":{"field":"z","type":"quantitative","scale":{"domain":[-1,1]},"axis":null},"y":{"field":"y","type":"quantitative","scale":{"domain":[-1,1]},"axis":null},"order":{"field":"k","type":"quantitative"}}},
     {"data":{"name":"bases"},"transform":[{"filter":"datum.p === 'c3'"}],"mark":{"type":"point","shape":"M-35.7,0A35.7,13.5 0 1,1 35.7,0A35.7,13.5 0 1,1 -35.7,0Z","size":4,"angle":-50,"filled":true,"fill":"#00e000","stroke":"black","strokeWidth":1,"opacity":1},"encoding":{"x":{"field":"z","type":"quantitative","scale":{"domain":[-1,1]},"axis":{"orient":"bottom","values":[-0.73,0,0.74],"labelExpr":"datum.value < -0.1 ? '+z (rostral)' : datum.value > 0.1 ? '(caudal) -z' : '0'","ticks":false,"tickSize":0,"labelPadding":8,"title":null}},"y":{"field":"y","type":"quantitative","scale":{"domain":[-1,1]},"axis":{"orient":"left","values":[-0.69,0,0.69],"labelExpr":"datum.value > 0.1 ? '(dorsal) +γ' : datum.value < -0.1 ? '-γ (ventral)' : '0'","labelAngle":-90,"ticks":false,"tickSize":0,"labelPadding":5,"title":null}}}},
     {"data":{"name":"panels"},"transform":[{"filter":"datum.p === 'c3'"}],"mark":{"type":"rect","fill":"white","stroke":"black","strokeWidth":1},"encoding":{"x":{"datum":0.063,"type":"quantitative","scale":{"domain":[-1,1]},"axis":{"orient":"top","values":[-0.5,0.5],"labels":false,"title":null}},"x2":{"datum":0.968},"y":{"datum":0.958,"type":"quantitative","scale":{"domain":[-1,1]},"axis":{"orient":"right","values":[-0.8,-0.6,-0.4,-0.2,0.2,0.4,0.6,0.8],"labels":false,"title":null}},"y2":{"datum":0.685}}},
     {"data":{"name":"panels"},"transform":[{"filter":"datum.p === 'c3'"}],"mark":{"type":"text","fontSize":20},"encoding":{"x":{"datum":0.515,"type":"quantitative","scale":{"domain":[-1,1]},"axis":null},"y":{"datum":0.82,"type":"quantitative","scale":{"domain":[-1,1]},"axis":null},"text":{"field":"label"}}},
     {"data":{"name":"panels"},"transform":[{"filter":"datum.p === 'c3'"}],"mark":{"type":"rect","fill":"white","stroke":"black","strokeWidth":1},"encoding":{"x":{"datum":0.38,"type":"quantitative","scale":{"domain":[-1,1]},"axis":{"orient":"bottom","values":[-0.5,0.5],"labels":false,"title":null}},"x2":{"datum":0.935},"y":{"datum":-0.67,"type":"quantitative","scale":{"domain":[-1,1]},"axis":{"orient":"left","values":[-0.8,-0.6,-0.4,-0.2,0.2,0.4,0.6,0.8],"labels":false,"title":null}},"y2":{"datum":-0.95}}},
     {"data":{"name":"panels"},"transform":[{"filter":"datum.p === 'c3'"}],"mark":{"type":"text","fontSize":20},"encoding":{"x":{"datum":0.657,"type":"quantitative","scale":{"domain":[-1,1]},"axis":null},"y":{"datum":-0.81,"type":"quantitative","scale":{"domain":[-1,1]},"axis":null},"text":{"field":"gene"}}}
    ],
    "resolve":{"axis":{"x":"independent","y":"independent"}}}
  ]},
 {"title":{"text":"d","orient":"left","anchor":"end","frame":"bounds","angle":0,"align":"right","baseline":"top","font":"Open Sans","fontSize":56,"fontWeight":"bold","offset":-8,"dy":-20},
  "spacing":35,
  "resolve":{"scale":{"color":"independent"}},
  "hconcat":[
   {"width":271,"height":213,
    "layer":[
     {"data":{"name":"dist"},"transform":[{"filter":"datum.r === 'd1'"}],"mark":{"type":"line","color":"black","strokeWidth":3},"encoding":{"x":{"field":"ga","type":"quantitative","scale":{"domain":[0,1]},"axis":{"orient":"bottom","values":[0,0.5,1],"labelExpr":"datum.value === 0 ? '0' : datum.value === 1 ? '1' : 'GA'","labelFlush":true,"ticks":false,"tickSize":0,"labelPadding":10,"title":null}},"y":{"field":"f","type":"quantitative","scale":{"domain":[0,1]},"axis":{"orient":"left","values":[0.125,0.25,0.375,0.5,0.625,0.75,0.875],"labels":false,"title":null}}}},
     {"data":{"name":"arrows"},"transform":[{"filter":"datum.r === 'd1' && datum.gene === 'Rreb1'"}],"mark":{"type":"bar","width":7,"fill":{"gradient":"linear","x1":0,"y1":0,"x2":0,"y2":1,"stops":[{"offset":0,"color":"#000000"},{"offset":1,"color":"#22dd22"}]}},"encoding":{"x":{"field":"ga","type":"quantitative","scale":{"domain":[0,1]},"axis":null},"y":{"field":"ly","type":"quantitative","scale":{"domain":[0,1]},"axis":null},"y2":{"datum":0.076}}},
     {"data":{"name":"arrows"},"transform":[{"filter":"datum.r === 'd1' && datum.gene === 'Tubb3'"}],"mark":{"type":"bar","width":7,"fill":{"gradient":"linear","x1":0,"y1":0,"x2":0,"y2":1,"stops":[{"offset":0,"color":"#000000"},{"offset":1,"color":"#22cc22"}]}},"encoding":{"x":{"field":"ga","type":"quantitative","scale":{"domain":[0,1]},"axis":null},"y":{"field":"ly","type":"quantitative","scale":{"domain":[0,1]},"axis":null},"y2":{"datum":0.076}}},
     {"data":{"name":"arrows"},"transform":[{"filter":"datum.r === 'd1' && datum.gene === 'Cdh24'"}],"mark":{"type":"bar","width":7,"fill":{"gradient":"linear","x1":0,"y1":0,"x2":0,"y2":1,"stops":[{"offset":0,"color":"#000000"},{"offset":1,"color":"#5a0000"}]}},"encoding":{"x":{"field":"ga","type":"quantitative","scale":{"domain":[0,1]},"axis":null},"y":{"field":"ly","type":"quantitative","scale":{"domain":[0,1]},"axis":null},"y2":{"datum":0.076}}},
     {"data":{"name":"arrows"},"transform":[{"filter":"datum.r === 'd1'"}],"mark":{"type":"rule","color":"black","strokeWidth":7,"strokeCap":"square"},"encoding":{"x":{"field":"ga","type":"quantitative","scale":{"domain":[0,1]},"axis":null},"x2":{"field":"lx"},"y":{"field":"ly","type":"quantitative","scale":{"domain":[0,1]},"axis":null}}},
     {"data":{"name":"arrows"},"transform":[{"filter":"datum.r === 'd1'"}],"mark":{"type":"point","shape":"M-10,-5L10,-5L0,5Z","size":4,"filled":true,"opacity":1},"encoding":{"x":{"field":"ga","type":"quantitative","scale":{"domain":[0,1]},"axis":{"orient":"bottom","values":[0.1,0.2,0.3,0.4,0.5,0.6,0.7,0.8,0.9],"labels":false,"title":null}},"y":{"datum":0.052,"type":"quantitative","scale":{"domain":[0,1]},"axis":null},"color":{"field":"gene","type":"nominal","scale":{"domain":["Rreb1","Tubb3","Cdh24"],"range":["#22dd22","#22cc22","#5a0000"]},"legend":null}}},
     {"data":{"name":"arrows"},"transform":[{"filter":"datum.r === 'd1'"}],"mark":{"type":"rect","fill":"white","stroke":"black","strokeWidth":1,"xOffset":-26,"x2Offset":26,"yOffset":-12.5,"y2Offset":12.5},"encoding":{"x":{"field":"lx","type":"quantitative","scale":{"domain":[0,1]},"axis":{"orient":"top","values":[0.1,0.2,0.3,0.4,0.5,0.6,0.7,0.8,0.9],"labels":false,"title":null}},"x2":{"field":"lx"},"y":{"field":"ly","type":"quantitative","scale":{"domain":[0,1]},"axis":{"orient":"right","values":[0.125,0.25,0.375,0.5,0.625,0.75,0.875],"labels":false,"title":null}},"y2":{"field":"ly"}}},
     {"data":{"name":"arrows"},"transform":[{"filter":"datum.r === 'd1'"}],"mark":{"type":"text","fontSize":12.5},"encoding":{"x":{"field":"lx","type":"quantitative","scale":{"domain":[0,1]},"axis":null},"y":{"field":"ly","type":"quantitative","scale":{"domain":[0,1]},"axis":null},"text":{"field":"gene"}}}
    ],
    "resolve":{"axis":{"x":"independent","y":"independent"}}},
   {"width":271,"height":213,
    "layer":[
     {"data":{"name":"dist"},"transform":[{"filter":"datum.r === 'd2'"}],"mark":{"type":"line","color":"black","strokeWidth":3},"encoding":{"x":{"field":"ga","type":"quantitative","scale":{"domain":[0,1]},"axis":{"orient":"bottom","values":[0,0.5,1],"labelExpr":"datum.value === 0 ? '0' : datum.value === 1 ? '1' : 'GA'","labelFlush":true,"ticks":false,"tickSize":0,"labelPadding":10,"title":null}},"y":{"field":"f","type":"quantitative","scale":{"domain":[0,1]},"axis":{"orient":"left","values":[0.143,0.286,0.429,0.571,0.714,0.857],"labels":false,"title":null}}}},
     {"data":{"name":"arrows"},"transform":[{"filter":"datum.r === 'd2' && datum.gene === 'Rreb1'"}],"mark":{"type":"bar","width":7,"fill":{"gradient":"linear","x1":0,"y1":0,"x2":0,"y2":1,"stops":[{"offset":0,"color":"#000000"},{"offset":1,"color":"#119911"}]}},"encoding":{"x":{"field":"ga","type":"quantitative","scale":{"domain":[0,1]},"axis":null},"y":{"field":"ly","type":"quantitative","scale":{"domain":[0,1]},"axis":null},"y2":{"datum":0.076}}},
     {"data":{"name":"arrows"},"transform":[{"filter":"datum.r === 'd2' && datum.gene === 'Cdh24'"}],"mark":{"type":"bar","width":7,"fill":{"gradient":"linear","x1":0,"y1":0,"x2":0,"y2":1,"stops":[{"offset":0,"color":"#000000"},{"offset":1,"color":"#660000"}]}},"encoding":{"x":{"field":"ga","type":"quantitative","scale":{"domain":[0,1]},"axis":null},"y":{"field":"ly","type":"quantitative","scale":{"domain":[0,1]},"axis":null},"y2":{"datum":0.076}}},
     {"data":{"name":"arrows"},"transform":[{"filter":"datum.r === 'd2' && datum.gene === 'Tubb3'"}],"mark":{"type":"bar","width":7,"fill":{"gradient":"linear","x1":0,"y1":0,"x2":0,"y2":1,"stops":[{"offset":0,"color":"#000000"},{"offset":1,"color":"#ee0000"}]}},"encoding":{"x":{"field":"ga","type":"quantitative","scale":{"domain":[0,1]},"axis":null},"y":{"field":"ly","type":"quantitative","scale":{"domain":[0,1]},"axis":null},"y2":{"datum":0.076}}},
     {"data":{"name":"arrows"},"transform":[{"filter":"datum.r === 'd2'"}],"mark":{"type":"rule","color":"black","strokeWidth":7,"strokeCap":"square"},"encoding":{"x":{"field":"ga","type":"quantitative","scale":{"domain":[0,1]},"axis":null},"x2":{"field":"lx"},"y":{"field":"ly","type":"quantitative","scale":{"domain":[0,1]},"axis":null}}},
     {"data":{"name":"arrows"},"transform":[{"filter":"datum.r === 'd2'"}],"mark":{"type":"point","shape":"M-10,-5L10,-5L0,5Z","size":4,"filled":true,"opacity":1},"encoding":{"x":{"field":"ga","type":"quantitative","scale":{"domain":[0,1]},"axis":{"orient":"bottom","values":[0.1,0.2,0.3,0.4,0.5,0.6,0.7,0.8,0.9],"labels":false,"title":null}},"y":{"datum":0.052,"type":"quantitative","scale":{"domain":[0,1]},"axis":null},"color":{"field":"gene","type":"nominal","scale":{"domain":["Rreb1","Tubb3","Cdh24"],"range":["#119911","#ee0000","#660000"]},"legend":null}}},
     {"data":{"name":"arrows"},"transform":[{"filter":"datum.r === 'd2'"}],"mark":{"type":"rect","fill":"white","stroke":"black","strokeWidth":1,"xOffset":-26,"x2Offset":26,"yOffset":-12.5,"y2Offset":12.5},"encoding":{"x":{"field":"lx","type":"quantitative","scale":{"domain":[0,1]},"axis":{"orient":"top","values":[0.1,0.2,0.3,0.4,0.5,0.6,0.7,0.8,0.9],"labels":false,"title":null}},"x2":{"field":"lx"},"y":{"field":"ly","type":"quantitative","scale":{"domain":[0,1]},"axis":{"orient":"right","values":[0.143,0.286,0.429,0.571,0.714,0.857],"labels":false,"title":null}},"y2":{"field":"ly"}}},
     {"data":{"name":"arrows"},"transform":[{"filter":"datum.r === 'd2'"}],"mark":{"type":"text","fontSize":12.5},"encoding":{"x":{"field":"lx","type":"quantitative","scale":{"domain":[0,1]},"axis":null},"y":{"field":"ly","type":"quantitative","scale":{"domain":[0,1]},"axis":null},"text":{"field":"gene"}}}
    ],
    "resolve":{"axis":{"x":"independent","y":"independent"}}},
   {"width":271,"height":213,
    "layer":[
     {"data":{"name":"dist"},"transform":[{"filter":"datum.r === 'd3'"}],"mark":{"type":"line","color":"black","strokeWidth":3},"encoding":{"x":{"field":"ga","type":"quantitative","scale":{"domain":[0,1]},"axis":{"orient":"bottom","values":[0,0.5,1],"labelExpr":"datum.value === 0 ? '0' : datum.value === 1 ? '1' : 'GA'","labelFlush":true,"ticks":false,"tickSize":0,"labelPadding":10,"title":null}},"y":{"field":"f","type":"quantitative","scale":{"domain":[0,1]},"axis":{"orient":"left","values":[0.125,0.25,0.375,0.5,0.625,0.75,0.875],"labels":false,"title":null}}}},
     {"data":{"name":"arrows"},"transform":[{"filter":"datum.r === 'd3' && datum.gene === 'Tubb3'"}],"mark":{"type":"bar","width":7,"fill":{"gradient":"linear","x1":0,"y1":0,"x2":0,"y2":1,"stops":[{"offset":0,"color":"#000000"},{"offset":1,"color":"#22dd22"}]}},"encoding":{"x":{"field":"ga","type":"quantitative","scale":{"domain":[0,1]},"axis":null},"y":{"field":"ly","type":"quantitative","scale":{"domain":[0,1]},"axis":null},"y2":{"datum":0.076}}},
     {"data":{"name":"arrows"},"transform":[{"filter":"datum.r === 'd3' && datum.gene === 'Cdh24'"}],"mark":{"type":"bar","width":8,"fill":{"gradient":"linear","x1":0,"y1":0,"x2":0,"y2":1,"stops":[{"offset":0,"color":"#000000"},{"offset":1,"color":"#119911"}]}},"encoding":{"x":{"field":"ga","type":"quantitative","scale":{"domain":[0,1]},"axis":null},"y":{"field":"ly","type":"quantitative","scale":{"domain":[0,1]},"axis":null},"y2":{"datum":0.076}}},
     {"data":{"name":"arrows"},"transform":[{"filter":"datum.r === 'd3' && datum.gene === 'Rreb1'"}],"mark":{"type":"bar","width":7,"fill":{"gradient":"linear","x1":0,"y1":0,"x2":0,"y2":1,"stops":[{"offset":0,"color":"#000000"},{"offset":1,"color":"#ee0000"}]}},"encoding":{"x":{"field":"ga","type":"quantitative","scale":{"domain":[0,1]},"axis":null},"y":{"field":"ly","type":"quantitative","scale":{"domain":[0,1]},"axis":null},"y2":{"datum":0.076}}},
     {"data":{"name":"arrows"},"transform":[{"filter":"datum.r === 'd3'"}],"mark":{"type":"rule","color":"black","strokeWidth":7,"strokeCap":"square"},"encoding":{"x":{"field":"ga","type":"quantitative","scale":{"domain":[0,1]},"axis":null},"x2":{"field":"lx"},"y":{"field":"ly","type":"quantitative","scale":{"domain":[0,1]},"axis":null}}},
     {"data":{"name":"arrows"},"transform":[{"filter":"datum.r === 'd3'"}],"mark":{"type":"point","shape":"M-10,-5L10,-5L0,5Z","size":4,"filled":true,"opacity":1},"encoding":{"x":{"field":"ga","type":"quantitative","scale":{"domain":[0,1]},"axis":{"orient":"bottom","values":[0.1,0.2,0.3,0.4,0.5,0.6,0.7,0.8,0.9],"labels":false,"title":null}},"y":{"datum":0.052,"type":"quantitative","scale":{"domain":[0,1]},"axis":null},"color":{"field":"gene","type":"nominal","scale":{"domain":["Rreb1","Tubb3","Cdh24"],"range":["#ee0000","#22dd22","#119911"]},"legend":null}}},
     {"data":{"name":"arrows"},"transform":[{"filter":"datum.r === 'd3'"}],"mark":{"type":"rect","fill":"white","stroke":"black","strokeWidth":1,"xOffset":-26,"x2Offset":26,"yOffset":-12.5,"y2Offset":12.5},"encoding":{"x":{"field":"lx","type":"quantitative","scale":{"domain":[0,1]},"axis":{"orient":"top","values":[0.1,0.2,0.3,0.4,0.5,0.6,0.7,0.8,0.9],"labels":false,"title":null}},"x2":{"field":"lx"},"y":{"field":"ly","type":"quantitative","scale":{"domain":[0,1]},"axis":{"orient":"right","values":[0.125,0.25,0.375,0.5,0.625,0.75,0.875],"labels":false,"title":null}},"y2":{"field":"ly"}}},
     {"data":{"name":"arrows"},"transform":[{"filter":"datum.r === 'd3'"}],"mark":{"type":"text","fontSize":12.5},"encoding":{"x":{"field":"lx","type":"quantitative","scale":{"domain":[0,1]},"axis":null},"y":{"field":"ly","type":"quantitative","scale":{"domain":[0,1]},"axis":null},"text":{"field":"gene"}}}
    ],
    "resolve":{"axis":{"x":"independent","y":"independent"}}}
  ]}
]
}
